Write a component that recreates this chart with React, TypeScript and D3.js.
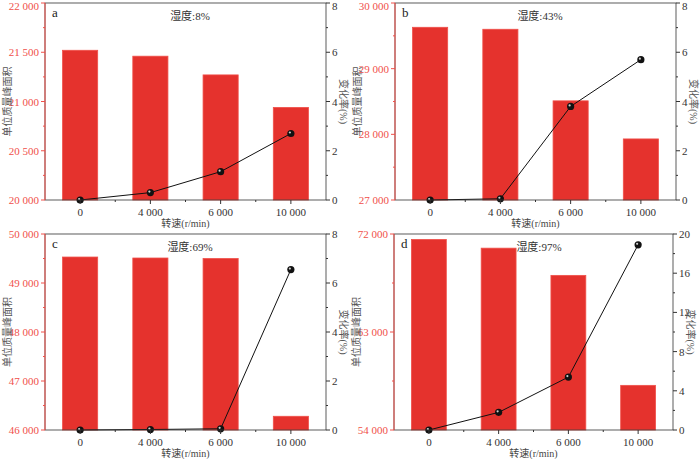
import React from "react";
import * as d3 from "d3";

const categories = ["0", "4 000", "6 000", "10 000"];
const panelLetters = ["a", "b", "c", "d"];
const humidity = ["湿度:8%", "湿度:43%", "湿度:69%", "湿度:97%"];
const barA = [21520, 21460, 21270, 20940];
const barB = [29630, 29600, 28510, 27930];
const barC = [49530, 49510, 49500, 46280];
const barD = [71500, 70700, 68200, 58100];
const lineA = [0, 0.3, 1.15, 2.7];
const lineB = [0, 0.05, 3.8, 5.7];
const lineC = [0, 0.02, 0.05, 6.55];
const lineD = [0, 1.8, 5.4, 18.9];
const leftDomains = [[20000, 22000], [27000, 30000], [46000, 50000], [54000, 72000]];
const leftTicks = [
  [20000, 20500, 21000, 21500, 22000],
  [27000, 28000, 29000, 30000],
  [46000, 47000, 48000, 49000, 50000],
  [54000, 63000, 72000],
];
const rightDomains = [[0, 8], [0, 8], [0, 8], [0, 20]];
const rightTicks = [[0, 2, 4, 6, 8], [0, 2, 4, 6, 8], [0, 2, 4, 6, 8], [0, 4, 8, 12, 16, 20]];

const bars = [barA, barB, barC, barD];
const lines = [lineA, lineB, lineC, lineD];
const boxes = [
  { x0: 45, x1: 326, y0: 3, y1: 200 },
  { x0: 395, x1: 676, y0: 3, y1: 200 },
  { x0: 45, x1: 326, y0: 234, y1: 430 },
  { x0: 394, x1: 673, y0: 234, y1: 430 },
];
const RED = "#e5322d";
const LRED = "#f0504a";
const fmt = (v: number) => d3.format(",")(v).replace(/,/g, " ");

function Panel({ i }: { i: number }) {
  const b = boxes[i];
  const x = d3.scaleBand().domain(categories).range([b.x0, b.x1]).paddingInner(0.5).paddingOuter(0.25);
  const yl = d3.scaleLinear().domain(leftDomains[i]).range([b.y1, b.y0]);
  const yr = d3.scaleLinear().domain(rightDomains[i]).range([b.y1, b.y0]);
  const lt = leftTicks[i];
  const rt = rightTicks[i];
  const lminor = lt.slice(0, -1).map((v, k) => (v + lt[k + 1]) / 2);
  const rminor = rt.slice(0, -1).map((v, k) => (v + rt[k + 1]) / 2);
  const line = d3.line<number>().x((_, k) => x(categories[k])! + x.bandwidth() / 2).y((v) => yr(v));
  const midY = (b.y0 + b.y1) / 2;
  const step = x.step();
  return (
    <g fontFamily="'Liberation Serif', 'Noto Sans CJK SC', serif">
      {bars[i].map((v, k) => (
        <rect key={k} x={x(categories[k])} width={x.bandwidth()} y={yl(v)} height={b.y1 - yl(v)} fill={RED} stroke={LRED} strokeWidth={0.8} />
      ))}
      <path d={line(lines[i])!} fill="none" stroke="#111" strokeWidth={1} />
      {lines[i].map((v, k) => (
        <g key={k}>
          <circle cx={x(categories[k])! + x.bandwidth() / 2} cy={yr(v)} r={3.6} fill="#111" />
          <circle cx={x(categories[k])! + x.bandwidth() / 2 - 1} cy={yr(v) - 1} r={1.1} fill="#ccc" />
        </g>
      ))}
      <rect x={b.x0} y={b.y0} width={b.x1 - b.x0} height={b.y1 - b.y0} fill="none" stroke="#333" strokeWidth={0.8} />
      <line x1={b.x0} x2={b.x0} y1={b.y0} y2={b.y1} stroke={LRED} strokeWidth={1} />
      {lt.map((v) => (
        <g key={v}>
          <line x1={b.x0 - 4} x2={b.x0} y1={yl(v)} y2={yl(v)} stroke={LRED} />
          <text x={b.x0 - 6} y={Math.max(yl(v) + 4, 10)} textAnchor="end" fontSize={11} fill={LRED}>{fmt(v)}</text>
        </g>
      ))}
      {lminor.map((v) => <line key={v} x1={b.x0 - 2} x2={b.x0} y1={yl(v)} y2={yl(v)} stroke={LRED} />)}
      {rt.map((v) => (
        <g key={v}>
          <line x1={b.x1} x2={b.x1 + 4} y1={yr(v)} y2={yr(v)} stroke="#333" />
          <text x={b.x1 + 6} y={Math.max(yr(v) + 4, 10)} fontSize={11} fill="#333">{v}</text>
        </g>
      ))}
      {rminor.map((v) => <line key={v} x1={b.x1} x2={b.x1 + 2} y1={yr(v)} y2={yr(v)} stroke="#333" />)}
      {categories.map((c, k) => (
        <g key={c}>
          <line x1={x(c)! + x.bandwidth() / 2} x2={x(c)! + x.bandwidth() / 2} y1={b.y1} y2={b.y1 + 4} stroke="#333" />
          {k < 3 && <line x1={x(c)! + x.bandwidth() / 2 + step / 2} x2={x(c)! + x.bandwidth() / 2 + step / 2} y1={b.y1} y2={b.y1 + 2} stroke="#333" />}
          <text x={x(c)! + x.bandwidth() / 2} y={b.y1 + 16} textAnchor="middle" fontSize={11} fill="#333">{c}</text>
        </g>
      ))}
      <text x={(b.x0 + b.x1) / 2} y={b.y1 + 27} textAnchor="middle" fontSize={10} fill="#444">转速(r/min)</text>
      <text transform={`translate(${b.x0 - 34},${midY}) rotate(-90)`} textAnchor="middle" fontSize={10} fill="#555">单位质量峰面积</text>
      <text transform={`translate(${b.x1 + 14},${midY}) rotate(90)`} textAnchor="middle" fontSize={10} fill="#555">变化率(%)</text>
      <text x={b.x0 + 7} y={b.y0 + 14} fontSize={13} fill="#222">{panelLetters[i]}</text>
      <text x={b.x0 + 145} y={b.y0 + 17} textAnchor="middle" fontSize={11} fill="#333">{humidity[i]}</text>
    </g>
  );
}

export default function App() {
  return (
    <svg width={700} height={459} style={{ position: "absolute", left: 0, top: 0, background: "#fff" }}>
      {[0, 1, 2, 3].map((i) => <Panel key={i} i={i} />)}
    </svg>
  );
}
